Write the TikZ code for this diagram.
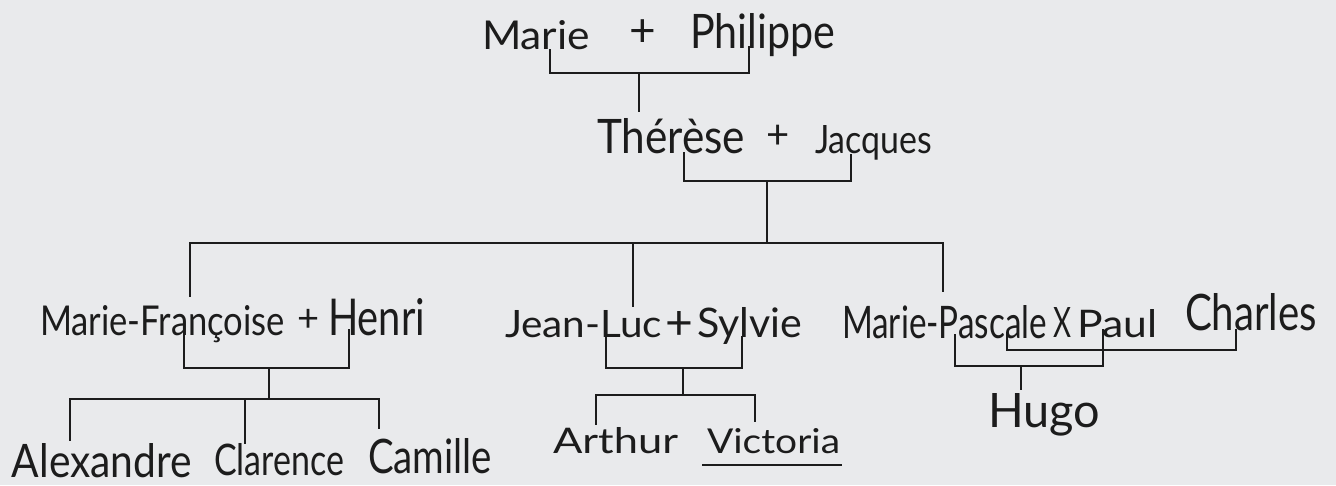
\documentclass[tikz,border=0pt]{standalone}
\usepackage{fontspec}
\setmainfont{Lato}
\usepackage{graphicx}
\definecolor{bg}{RGB}{233,234,236}
\definecolor{ink}{RGB}{28,28,28}
\newcommand{\hw}[3]{\resizebox{#1pt}{#2pt}{#3}}
\newcommand{\pl}[1]{\fontsize{#1}{#1}\selectfont +}
\begin{document}
\begin{tikzpicture}[x=1pt,y=-1pt,
  lbl/.style={anchor=base west, inner sep=0pt, outer sep=0pt, text=ink},
  sym/.style={anchor=center, inner sep=0pt, outer sep=0pt, text=ink},
  link/.style={draw=ink, line width=1.8pt, line cap=rect}]
\fill[bg] (0,0) rectangle (1336,485);
\useasboundingbox (0,0) rectangle (1336,485);
% generation 1
\node[lbl] (marie) at (482,49) {\hw{108}{29}{Marie}};
\node[sym] (plus1) at (643,33) {\pl{46}};
\node[lbl] (philippe) at (690,48) {\hw{145}{35}{Philippe}};
% generation 2
\node[lbl] (therese) at (597,153) {\hw{148}{35}{Thérèse}};
\node[sym] (plus2) at (778,137) {\pl{40}};
\node[lbl] (jacques) at (815,153) {\hw{117}{28}{Jacques}};
% generation 3
\node[lbl] (mf) at (40,335) {\hw{245}{30}{Marie-Françoise}};
\node[sym] (plus3) at (309,320) {\pl{38}};
\node[lbl] (henri) at (328,335) {\hw{97}{37}{Henri}};
\node[lbl] (jl) at (505,337) {\hw{157}{27}{Jean-Luc}};
\node[sym] (plus4) at (679,326) {\pl{48}};
\node[lbl] (sylvie) at (697,337) {\hw{105}{30}{Sylvie}};
\node[lbl] (mpasc) at (842,338) {\hw{205}{33}{Marie-Pascale}};
\node[lbl] (x) at (1053,337) {\hw{18}{30}{X}};
\node[lbl] (paul) at (1077,337) {\hw{80}{28}{Paul}};
\node[lbl] (charles) at (1185,330) {\hw{132}{37}{Charles}};
% generation 4
\node[lbl] (alex) at (12,477) {\hw{180}{34}{Alexandre}};
\node[lbl] (clar) at (214,475) {\hw{130}{32}{Clarence}};
\node[lbl] (cam) at (368,473) {\hw{124}{35}{Camille}};
\node[lbl] (arthur) at (553,453) {\hw{125}{26}{Arthur}};
\node[lbl] (victoria) at (707,453) {\hw{133}{25}{Victoria}};
\node[lbl] (hugo) at (988,427) {\hw{112}{34}{Hugo}};
% connector points
\coordinate (c1a) at (550,50);
\coordinate (c1b) at (749,47);
\coordinate (j1) at (639,73);
\coordinate (j1b) at (639,111);
\coordinate (c2a) at (684,153);
\coordinate (c2b) at (851,155);
\coordinate (j2) at (767,181);
\coordinate (j2b) at (767,243);
\coordinate (mfTop) at (190,296);
\coordinate (jlTop) at (633,306);
\coordinate (jlBus) at (633,243);
\coordinate (mpTop) at (943,291);
\coordinate (c3a) at (184,330);
\coordinate (c3b) at (349,330);
\coordinate (j3) at (269,368);
\coordinate (j3b) at (269,399);
\coordinate (alexTop) at (70,440);
\coordinate (clarTop) at (245,443);
\coordinate (clarBus) at (245,399);
\coordinate (camTop) at (379,428);
\coordinate (c4a) at (606,335);
\coordinate (c4b) at (742,337);
\coordinate (j4) at (683,368);
\coordinate (j4b) at (683,395);
\coordinate (arthTop) at (596,424);
\coordinate (vicTop) at (755,421);
\coordinate (c5a) at (955,335);
\coordinate (c5b) at (1103,330);
\coordinate (j5) at (1021,366);
\coordinate (j5b) at (1021,389);
\coordinate (c6a) at (1007,333);
\coordinate (c6b) at (1236,330);
\coordinate (j6) at (1120,350);
\coordinate (ulA) at (703,465);
\coordinate (ulB) at (841,465);
% connectors
\draw[link] (c1a) |- (j1) -| (c1b);
\draw[link] (j1) -- (j1b);
\draw[link] (c2a) |- (j2) -| (c2b);
\draw[link] (j2) -- (j2b);
\draw[link] (mfTop) |- (j2b) -| (mpTop);
\draw[link] (jlBus) -- (jlTop);
\draw[link] (c3a) |- (j3) -| (c3b);
\draw[link] (j3) -- (j3b);
\draw[link] (alexTop) |- (j3b) -| (camTop);
\draw[link] (clarBus) -- (clarTop);
\draw[link] (c4a) |- (j4) -| (c4b);
\draw[link] (j4) -- (j4b);
\draw[link] (arthTop) |- (j4b) -| (vicTop);
\draw[link] (c5a) |- (j5) -| (c5b);
\draw[link] (j5) -- (j5b);
\draw[link] (c6a) |- (j6) -| (c6b);
\draw[link] (ulA) -- (ulB);
\end{tikzpicture}
\end{document}
